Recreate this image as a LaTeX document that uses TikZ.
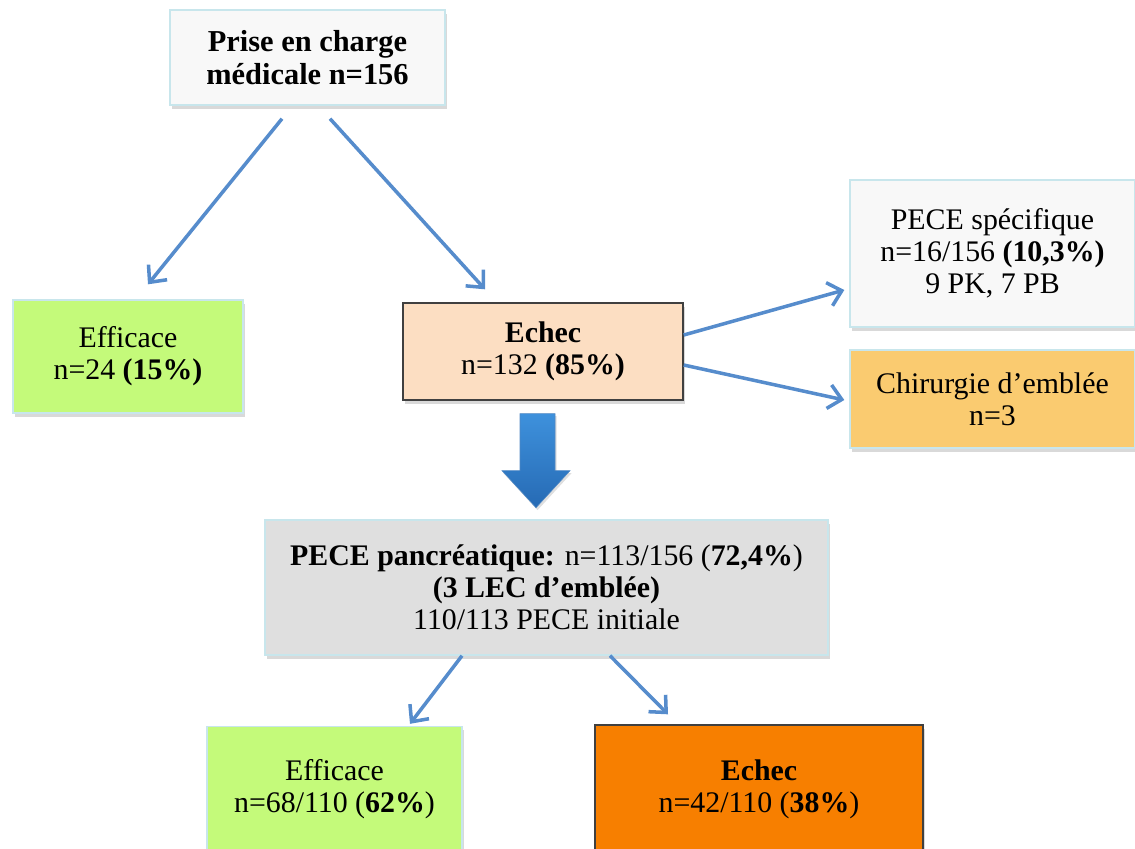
\documentclass[tikz,border=0pt]{standalone}
\usepackage{fontspec}
\setmainfont{Liberation Serif}
\usetikzlibrary{positioning,shadows,arrows.meta}

\definecolor{boxline}{RGB}{200,230,236}
\definecolor{paleback}{RGB}{248,248,248}
\definecolor{okgreen}{RGB}{196,250,122}
\definecolor{peach}{RGB}{252,222,194}
\definecolor{surgery}{RGB}{250,203,112}
\definecolor{pancgray}{RGB}{223,223,223}
\definecolor{failorange}{RGB}{247,127,0}
\definecolor{flowblue}{RGB}{86,140,204}
\definecolor{bigtop}{RGB}{62,145,220}
\definecolor{bigbot}{RGB}{38,106,180}

\begin{document}
\begin{tikzpicture}[on grid, auto,
    box/.style={draw=boxline, line width=0.8pt, align=center, inner sep=0pt,
        font=\fontsize{17}{18.2}\selectfont,
        drop shadow={opacity=0.3, shadow xshift=0.04cm, shadow yshift=-0.07cm}},
    darkbox/.style={box, draw=black!75},
    flow/.style={-{Straight Barb[length=2.6mm, width=4.8mm]}, draw=flowblue, line width=2pt}]
    \useasboundingbox (0,0) rectangle (22.7,-16.96);

    \node[box, fill=paleback, minimum width=5.5cm, minimum height=1.9cm,
        font=\fontsize{17.3}{18.8}\selectfont\bfseries] (care) at (6.15,-1.15)
        {Prise en charge\\médicale n=156};
    \node[box, fill=okgreen, minimum width=4.6cm, minimum height=2.26cm,
        below left=5.98cm and 3.59cm of care] (eff1) {Efficace\\n=24 \textbf{(15\%)}};
    \node[darkbox, fill=peach, minimum width=5.6cm, minimum height=1.94cm,
        below right=5.88cm and 4.71cm of care] (fail1) {\textbf{Echec}\\n=132 \textbf{(85\%)}};
    \node[box, fill=paleback, minimum width=5.7cm, minimum height=2.94cm,
        above right=1.96cm and 8.99cm of fail1] (spec) {PECE spécifique\\n=16/156 \textbf{(10,3\%)}\\9 PK, 7 PB};
    \node[box, fill=surgery, minimum width=5.7cm, minimum height=1.96cm,
        below=2.91cm of spec] (surg) {Chirurgie d’emblée\\n=3};
    \node[box, fill=pancgray, minimum width=11.26cm, minimum height=2.7cm,
        below right=4.72cm and 0.07cm of fail1] (panc)
        {\textbf{PECE pancréatique:} n=113/156 (\textbf{72,4\%})\\\textbf{(3 LEC d’emblée)}\\110/113 PECE initiale};
    \node[box, fill=okgreen, minimum width=5.1cm, minimum height=2.5cm,
        below left=4.03cm and 4.24cm of panc] (eff2) {Efficace\\n=68/110 (\textbf{62\%})};
    \node[darkbox, fill=failorange, minimum width=6.56cm, minimum height=2.56cm,
        below right=4.03cm and 4.25cm of panc] (fail2) {\textbf{Echec}\\n=42/110 (\textbf{38\%})};

    \draw[flow] ([xshift=-0.51cm, yshift=-0.26cm]care.south) -- ([xshift=0.4cm, yshift=0.3cm]eff1.north);
    \draw[flow] ([xshift=0.45cm, yshift=-0.26cm]care.south) -- ([xshift=-1.16cm, yshift=0.26cm]fail1.north);
    \draw[flow] ([yshift=0.33cm]fail1.east) -- ([xshift=-0.1cm, yshift=-0.73cm]spec.west);
    \draw[flow] ([yshift=-0.27cm]fail1.east) -- ([xshift=-0.1cm, yshift=-0.02cm]surg.west);
    \draw[flow] ([xshift=-1.69cm]panc.south) -- ([xshift=1.51cm, yshift=0.04cm]eff2.north);
    \draw[flow] ([xshift=1.27cm]panc.south) -- ([xshift=-1.82cm, yshift=0.2cm]fail2.north);

    % big arrow down to the pancreatic box
    \shade[top color=bigtop, bottom color=bigbot, draw=bigbot!80, line width=0.3pt,
        drop shadow={opacity=0.25, shadow xshift=0.03cm, shadow yshift=-0.05cm}]
        ([xshift=-0.46cm, yshift=-0.26cm]fail1.south) -- ++(0.7,0) -- ++(0,-1.14) -- ++(0.3,0)
        -- ++(-0.68,-0.74) -- ++(-0.68,0.74) -- ++(0.36,0) -- cycle;
\end{tikzpicture}
\end{document}
